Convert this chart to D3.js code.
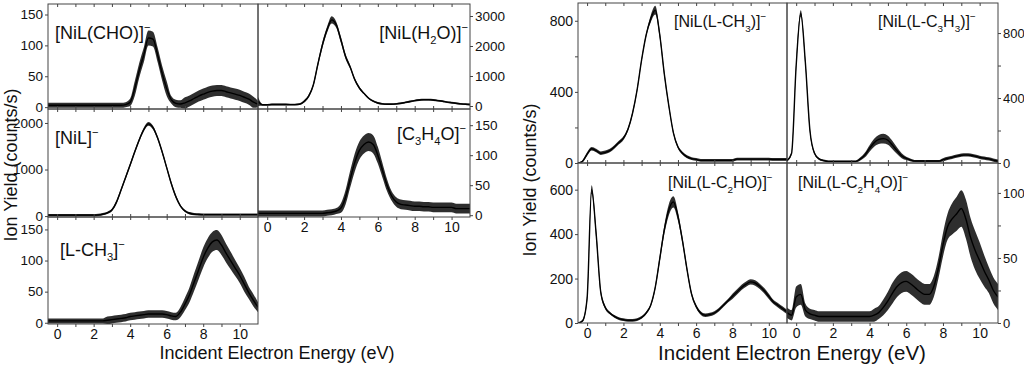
<!DOCTYPE html>
<html><head><meta charset="utf-8">
<script src="https://cdn.jsdelivr.net/npm/d3@7"></script>
<style>
html,body{margin:0;padding:0;background:#fff;}
svg{display:block;font-family:"Liberation Sans",Arial,sans-serif;}
</style></head>
<body><svg id="c" width="1024" height="366"></svg>
<script>
// ---------- DATA ----------
const energy = [-0.5,-0.25,0,0.25,0.5,0.75,1,1.25,1.5,1.75,2,2.25,2.5,2.75,3,3.25,3.5,3.75,4,4.25,4.5,4.75,5,5.25,5.5,5.75,6,6.25,6.5,6.75,7,7.25,7.5,7.75,8,8.25,8.5,8.75,9,9.25,9.5,9.75,10,10.25,10.5,10.75,11];

// left figure
const yNiLCHO   = [3,3,3,3,3,3,3,3,3,3,3,3,3,3,3,3,3,4,8,30,60,85,112,110,85,55,30,12,6,5,7,10,14,18,21,24,26,27,27,25,23,21,19,16,13,8,5];
const nNiLCHO   = [4,4,4,4,4,4,4,4,4,4,4,4,4,4,4,4,4,4,6,12,12,12,12,12,12,12,12,6,6,6,9,9,9,9,9,9,9,9,9,9,9,9,9,9,9,9,5];
const yNiLH2O   = [150,40,40,50,50,50,50,45,45,60,150,330,700,1400,2050,2550,2870,2700,2200,1650,1300,880,600,420,260,160,100,70,60,60,70,90,120,150,180,200,210,210,200,180,160,130,110,90,70,60,50];
const nNiLH2O   = [150,30,30,30,30,30,30,30,30,30,40,50,60,80,100,100,120,100,100,80,60,50,40,30,30,30,30,30,30,30,30,30,30,30,30,30,30,30,30,30,30,30,30,30,30,30,30];
const yNiL      = [20,20,20,20,20,20,20,20,20,20,20,25,40,70,130,300,560,830,1100,1380,1640,1860,1980,1900,1680,1380,1040,700,420,220,110,60,40,35,30,30,30,30,30,30,30,30,30,30,30,30,30];
const nNiL      = [25,25,25,25,25,25,25,25,25,25,25,25,25,25,25,40,40,40,40,40,40,40,40,40,40,40,40,40,40,25,25,25,25,25,25,25,25,25,25,25,25,25,25,25,25,25,25];
const yC3H4O    = [3,3,3,3,3,3,3,3,3,3,3,3,3,3,3,4,5,7,12,30,60,88,108,118,122,118,100,75,50,32,22,18,17,16,15,15,14,14,13,13,13,13,13,11,11,11,11];
const nC3H4O    = [5,5,5,5,5,5,5,5,5,5,5,5,5,5,5,5,5,5,8,12,14,15,15,15,15,15,14,12,10,8,8,8,8,8,8,8,8,8,8,8,8,8,8,8,8,8,8];
const yLCH3     = [3,3,3,3,3,3,3,3,3,3,3,3,3,4,5,6,7,8,10,11,12,13,14,14,14,14,13,11,10,17,30,45,65,85,105,120,130,133,125,112,100,88,76,62,48,36,25];
const nLCH3     = [4,4,4,4,4,4,4,4,4,4,4,4,4,6,6,6,6,6,6,6,6,6,6,6,6,6,6,6,6,8,10,12,14,15,16,16,16,16,16,15,14,13,12,12,10,10,8];

// right figure
const yNiLLCH3  = [0,10,50,80,70,55,60,70,90,115,140,190,280,410,580,720,810,860,720,500,320,170,90,55,35,25,20,15,15,15,15,15,15,15,15,22,22,22,22,22,22,22,22,20,20,20,20];
const nNiLLCH3  = [3,6,10,10,10,10,10,10,10,10,10,10,10,10,10,10,20,25,20,15,12,10,8,8,8,8,8,8,8,8,8,8,8,8,8,8,8,8,8,8,8,8,8,8,8,8,8];
const yNiLLC3H3 = [15,60,600,920,620,200,60,25,15,10,10,10,10,10,10,10,25,50,90,125,145,150,140,110,75,45,28,18,12,12,12,12,12,12,20,28,35,42,48,50,48,42,35,30,25,18,12];
const nNiLLC3H3 = [5,10,20,20,20,15,8,6,6,6,6,6,6,6,6,6,10,15,20,25,28,30,28,25,20,15,10,8,6,6,6,6,6,6,10,10,10,10,10,10,10,10,10,10,10,10,10];
const yNiLLC2HO = [0,10,110,600,400,140,70,45,30,20,15,12,12,15,25,45,80,160,290,420,510,545,480,370,240,130,75,45,35,38,45,60,80,100,120,140,160,175,185,180,165,145,120,95,80,65,50];
const nNiLLC2HO = [2,5,15,20,20,12,8,6,6,6,6,6,6,6,6,6,6,10,15,20,25,25,20,15,12,10,8,8,8,8,8,8,8,8,12,12,12,12,12,12,12,12,12,10,10,10,10];
const yNiLLC2H4O= [8,6,20,22,10,7,6,5,5,5,5,5,5,5,5,5,5,5,5,6,8,12,17,23,28,31,32,30,27,24,22,22,28,42,60,74,80,84,88,80,66,56,48,40,33,25,20];
const nNiLLC2H4O= [4,4,8,8,5,4,4,4,4,4,4,4,4,4,4,4,4,4,4,5,5,6,7,8,8,8,8,8,8,8,8,8,8,8,9,10,12,13,14,15,15,15,14,12,10,10,10];

const labels = ["[NiL(CHO)]^-","[NiL(H_2O)]^-","[NiL]^-","[C_3H_4O]^-","[L-CH_3]^-",
                "[NiL(L-CH_3)]^-","[NiL(L-C_3H_3)]^-","[NiL(L-C_2HO)]^-","[NiL(L-C_2H_4O)]^-"];
const xTickMajor = [0,2,4,6,8,10];
const xTickMinor = [1,3,5,7,9];
const yTitle = "Ion Yield (counts/s)";
const xTitle = "Incident Electron Energy (eV)";

// ---------- LAYOUT ----------
const svg = d3.select("#c");
const INK = "#000", AX = "#444";
const xDom = [-0.5, 11];

const panels = [
  {y:yNiLCHO, n:nNiLCHO, lab:labels[0], x0:48, x1:258, y0:4, y1:109, dom:[-3,167], yt:[0,50,100,150], ym:[], side:"left", tfs:13.5, fs:18, lx:55, ly:39, anchor:"start", xlab:false},
  {y:yNiLH2O, n:nNiLH2O, lab:labels[1], x0:258, x1:470, y0:4, y1:109, dom:[-100,3400], yt:[0,1000,2000,3000], ym:[], side:"right", tfs:13.5, fs:18, lx:468, ly:39, anchor:"end", xlab:false},
  {y:yNiL, n:nNiL, lab:labels[2], x0:48, x1:258, y0:109, y1:217, dom:[-20,2300], yt:[0,1000,2000], ym:[], side:"left", tfs:13.5, fs:18, lx:55, ly:144, anchor:"start", xlab:false},
  {y:yC3H4O, n:nC3H4O, lab:labels[3], x0:258, x1:470, y0:109, y1:217, dom:[-3,177], yt:[0,50,100,150], ym:[], side:"right", tfs:13.5, fs:18, lx:466, ly:140, anchor:"end", xlab:true},
  {y:yLCH3, n:nLCH3, lab:labels[4], x0:48, x1:258, y0:217, y1:324, dom:[-2,170], yt:[0,50,100,150], ym:[], side:"left", tfs:13.5, fs:18, lx:60, ly:256, anchor:"start", xlab:true},
  {y:yNiLLCH3, n:nNiLLCH3, lab:labels[5], x0:578, x1:787, y0:3, y1:163, dom:[0,900], yt:[0,400,800], ym:[200,600], side:"left", tfs:14, fs:16, lx:674, ly:27, anchor:"start", xlab:false},
  {y:yNiLLC3H3, n:nNiLLC3H3, lab:labels[6], x0:787, x1:998, y0:3, y1:163, dom:[0,985], yt:[0,400,800], ym:[200,600], side:"right", tfs:13, fs:16, lx:878, ly:27, anchor:"start", xlab:false},
  {y:yNiLLC2HO, n:nNiLLC2HO, lab:labels[7], x0:578, x1:787, y0:163, y1:323, dom:[0,720], yt:[0,200,400,600], ym:[], side:"left", tfs:14, fs:16, lx:668, ly:188, anchor:"start", xlab:true},
  {y:yNiLLC2H4O, n:nNiLLC2H4O, lab:labels[8], x0:787, x1:998, y0:163, y1:323, dom:[0,123], yt:[0,50,100], ym:[25,75], side:"right", tfs:13, fs:16, lx:798, ly:188, anchor:"start", xlab:true}
];

function addRich(sel, str, fs){
  let i=0; const parts=[];
  while(i<str.length){
    if(str[i]==="_"){parts.push({t:str[i+1],k:"sub"}); i+=2;}
    else if(str[i]==="^"){parts.push({t:"\u2212",k:"sup"}); i+=2;}
    else { let j=i; while(j<str.length && str[j]!=="_" && str[j]!=="^") j++; parts.push({t:str.slice(i,j),k:""}); i=j;}
  }
  let shift=0;
  parts.forEach(p=>{
    const ts = sel.append("tspan").text(p.t);
    let target = p.k==="sub"? fs*0.3 : p.k==="sup"? -fs*0.45 : 0;
    ts.attr("dy", target-shift); shift=target;
    if(p.k) ts.attr("font-size", fs*0.62);
  });
}

panels.forEach((p,pi)=>{
  const x = d3.scaleLinear().domain(xDom).range([p.x0,p.x1]);
  const y = d3.scaleLinear().domain(p.dom).range([p.y1,p.y0]);
  const g = svg.append("g");
  const cid = "clip"+pi;
  svg.append("clipPath").attr("id",cid).append("rect")
    .attr("x",p.x0).attr("y",p.y0).attr("width",p.x1-p.x0).attr("height",p.y1-p.y0);
  const pts = energy.map((e,i)=>({e, v:p.y[i], n:p.n[i]}));
  const area = d3.area().x(d=>x(d.e)).y0(d=>y(d.v-d.n)).y1(d=>y(d.v+d.n)).curve(d3.curveMonotoneX);
  const line = d3.line().x(d=>x(d.e)).y(d=>y(d.v)).curve(d3.curveMonotoneX);
  const dg = g.append("g").attr("clip-path",`url(#${cid})`);
  dg.append("path").attr("d",area(pts)).attr("fill",INK).attr("fill-opacity",0.82);
  dg.append("path").attr("d",line(pts)).attr("fill","none").attr("stroke",INK).attr("stroke-width",1.4);

  g.append("rect").attr("x",p.x0).attr("y",p.y0).attr("width",p.x1-p.x0).attr("height",p.y1-p.y0)
    .attr("fill","none").attr("stroke",AX).attr("stroke-width",1);

  const ya = (p.side==="left"? d3.axisLeft(y) : d3.axisRight(y)).tickValues(p.yt).tickSize(3).tickPadding(2).tickFormat(d3.format("d"));
  const yg = g.append("g").attr("transform",`translate(${p.side==="left"?p.x0:p.x1},0)`).call(ya);
  yg.select(".domain").remove();
  yg.selectAll("line").attr("stroke",AX);
  yg.selectAll("text").attr("font-size",p.tfs).attr("fill","#111").attr("font-family","Liberation Sans, Arial, sans-serif");
  const ym = (p.side==="left"? d3.axisLeft(y) : d3.axisRight(y)).tickValues(p.ym).tickSize(3).tickFormat("");
  const ymg = g.append("g").attr("transform",`translate(${p.side==="left"?p.x0:p.x1},0)`).call(ym);
  ymg.select(".domain").remove(); ymg.selectAll("line").attr("stroke",AX);

  const allX = xTickMajor.concat(xTickMinor);
  const top = d3.axisBottom(x).tickValues(allX).tickSize(3).tickFormat("");
  const tg = g.append("g").attr("transform",`translate(0,${p.y0})`).call(top);
  tg.select(".domain").remove(); tg.selectAll("line").attr("stroke",AX);
  if(p.xlab){
    const bx = d3.axisBottom(x).tickValues(xTickMajor).tickSize(3).tickPadding(2).tickFormat(d3.format("d"));
    const bg = g.append("g").attr("transform",`translate(0,${p.y1})`).call(bx);
    bg.select(".domain").remove(); bg.selectAll("line").attr("stroke",AX);
    bg.selectAll("text").attr("font-size",14).attr("fill","#111").attr("font-family","Liberation Sans, Arial, sans-serif");
    const bm = d3.axisBottom(x).tickValues(xTickMinor).tickSize(3).tickFormat("");
    const bmg = g.append("g").attr("transform",`translate(0,${p.y1})`).call(bm);
    bmg.select(".domain").remove(); bmg.selectAll("line").attr("stroke",AX);
  } else {
    const bm = d3.axisTop(x).tickValues(allX).tickSize(3).tickFormat("");
    const bmg = g.append("g").attr("transform",`translate(0,${p.y1})`).call(bm);
    bmg.select(".domain").remove(); bmg.selectAll("line").attr("stroke",AX);
  }

  const t = g.append("text").attr("x",p.lx).attr("y",p.ly).attr("font-size",p.fs)
    .attr("text-anchor",p.anchor).attr("fill","#111");
  addRich(t, p.lab, p.fs);
});

// titles
svg.append("text").attr("transform","translate(17,165) rotate(-90)").attr("text-anchor","middle")
  .attr("font-size",18).attr("fill","#111").text(yTitle);
svg.append("text").attr("transform","translate(536,180) rotate(-90)").attr("text-anchor","middle")
  .attr("font-size",18).attr("fill","#111").text(yTitle);
svg.append("text").attr("x",277).attr("y",359).attr("text-anchor","middle")
  .attr("font-size",18).attr("fill","#111").text(xTitle);
svg.append("text").attr("x",792).attr("y",360).attr("text-anchor","middle")
  .attr("font-size",20.5).attr("fill","#111").text(xTitle);
</script></body></html>
